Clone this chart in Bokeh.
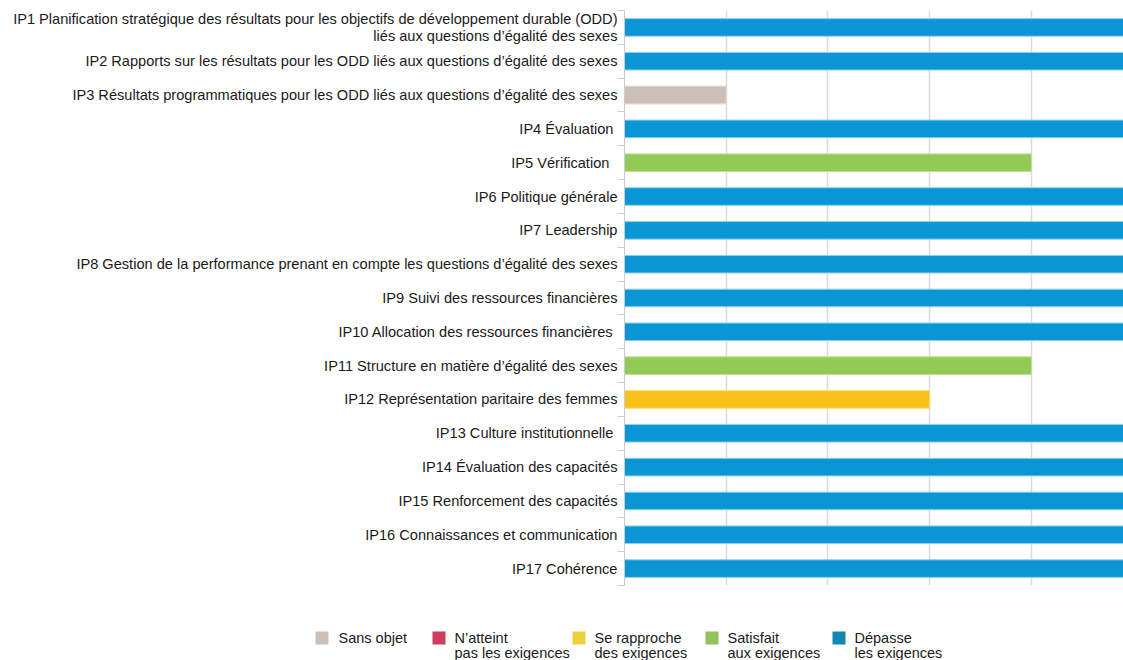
from bokeh.plotting import figure
from bokeh.models import Range1d, FixedTicker, ColumnDataSource
from bokeh.embed import file_html
from bokeh.resources import INLINE
from bokeh.core.properties import value

# ---- data ----
labels = [
    "IP1 Planification stratégique des résultats pour les objectifs de développement durable (ODD)\nliés aux questions d’égalité des sexes",
    "IP2 Rapports sur les résultats pour les ODD liés aux questions d’égalité des sexes",
    "IP3 Résultats programmatiques pour les ODD liés aux questions d’égalité des sexes",
    "IP4 Évaluation ",
    "IP5 Vérification  ",
    "IP6 Politique générale",
    "IP7 Leadership",
    "IP8 Gestion de la performance prenant en compte les questions d’égalité des sexes",
    "IP9 Suivi des ressources financières",
    "IP10 Allocation des ressources financières ",
    "IP11 Structure en matière d’égalité des sexes",
    "IP12 Représentation paritaire des femmes",
    "IP13 Culture institutionnelle ",
    "IP14 Évaluation des capacités",
    "IP15 Renforcement des capacités",
    "IP16 Connaissances et communication",
    "IP17 Cohérence",
]
values = [5, 5, 1, 5, 4, 5, 5, 5, 5, 5, 4, 3, 5, 5, 5, 5, 5]
status = ["Dépasse", "Dépasse", "Sans objet", "Dépasse", "Satisfait", "Dépasse", "Dépasse",
          "Dépasse", "Dépasse", "Dépasse", "Satisfait", "Se rapproche", "Dépasse", "Dépasse",
          "Dépasse", "Dépasse", "Dépasse"]

legend_names = ["Sans objet", "N’atteint\npas les exigences", "Se rapproche\ndes exigences",
                "Satisfait\naux exigences", "Dépasse\nles exigences"]
legend_keys = ["Sans objet", "N’atteint", "Se rapproche", "Satisfait", "Dépasse"]

bar_colors = {"Sans objet": "#cbbfb6", "N’atteint": "#cc3d5e", "Se rapproche": "#f8c21b",
              "Satisfait": "#93c955", "Dépasse": "#0a96d5"}
edge_colors = {"Sans objet": "#ddd5cf", "N’atteint": "#e08a9e", "Se rapproche": "#fbd970",
               "Satisfait": "#bfe09a", "Dépasse": "#8fd0ee"}
legend_colors = {"Sans objet": "#cbbfb6", "N’atteint": "#cc3d5e", "Se rapproche": "#ebcf3c",
                 "Satisfait": "#95c15a", "Dépasse": "#1388b2"}

n = len(labels)
centers = [n - 0.5 - i for i in range(n)]
bounds = [float(i) for i in range(n + 1)]

FONT = "Liberation Sans"

W = 1123
p = figure(width=W, height=586, x_range=Range1d(0, 4.906), y_range=Range1d(0, n),
           output_backend="svg", toolbar_location=None,
           min_border_left=624, min_border_right=0, min_border_top=10, min_border_bottom=1)
p.outline_line_color = None
p.xaxis.visible = False
p.ygrid.visible = False
p.xgrid.ticker = FixedTicker(ticks=[1, 2, 3, 4])
p.xgrid.grid_line_color = "#dbdbdb"
p.xgrid.grid_line_width = 1.5

src = ColumnDataSource(dict(
    y=centers, right=values,
    fill=[bar_colors[s] for s in status],
    edge=[edge_colors[s] for s in status],
))
p.hbar(y="y", left=0, right="right", height=0.52, fill_color="fill",
       line_color="edge", line_width=1, source=src)

ax = p.yaxis[0]
ax.ticker = FixedTicker(ticks=centers, minor_ticks=bounds)
ax.major_label_overrides = {c: lab for c, lab in zip(centers, labels)}
ax.major_tick_out = 0
ax.major_tick_in = 0
ax.minor_tick_out = 7
ax.minor_tick_in = 0
ax.minor_tick_line_color = "#cccccc"
ax.axis_line_color = "#cccccc"
ax.major_label_standoff = 0
ax.major_label_text_font = FONT
ax.major_label_text_font_size = "14.6px"
ax.major_label_text_line_height = 1.1
ax.major_label_text_color = "#1a1a1a"

# ---- legend figure ----
LH = 74
lf = figure(width=W, height=LH, x_range=Range1d(0, W), y_range=Range1d(LH, 0),
            output_backend="svg", toolbar_location=None, min_border=0,
            min_border_left=0, min_border_right=0, min_border_top=0, min_border_bottom=0)
lf.outline_line_color = None
lf.axis.visible = False
lf.grid.visible = False

sq_left = [315, 432, 572, 705, 832]
txt_left = [338, 454, 594, 727, 854]
lsrc = ColumnDataSource(dict(
    left=sq_left, right=[x + 13 for x in sq_left],
    top=[45] * 5, bottom=[58] * 5,
    color=[legend_colors[k] for k in legend_keys],
))
lf.quad(left="left", right="right", top="top", bottom="bottom", fill_color="color",
        line_color=None, source=lsrc)

t1x, t1y, t1 = [], [], []
for x, name in zip(txt_left, legend_names):
    lines = name.split("\n")
    for j, ln in enumerate(lines):
        t1x.append(x)
        t1y.append(51 + 15 * j)
        t1.append(ln)
lf.text(x=t1x, y=t1y, text=t1, text_font=value(FONT), text_font_size="14.5px",
        text_align="left", text_baseline="middle", text_color="#1a1a1a")

open("out.html", "w").write(file_html([p, lf], INLINE))
